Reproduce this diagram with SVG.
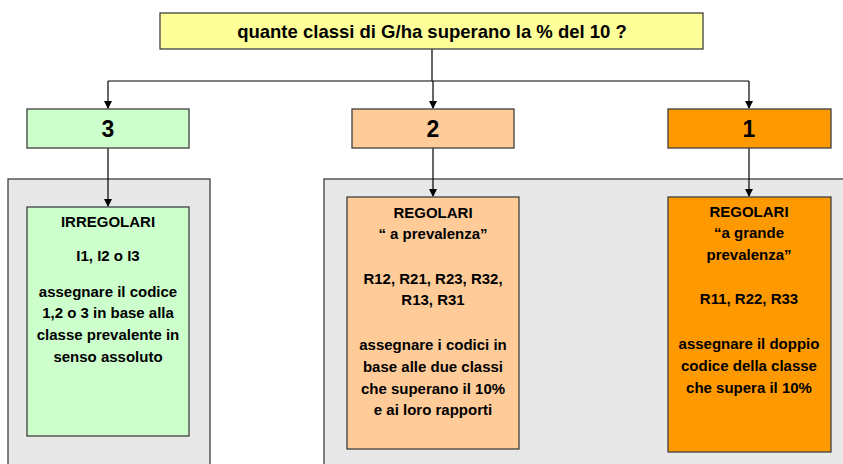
<svg xmlns="http://www.w3.org/2000/svg" width="843" height="464" viewBox="0 0 843 464">
  <defs>
    <marker id="arrow" markerWidth="8" markerHeight="8" refX="7" refY="4" orient="auto" markerUnits="userSpaceOnUse">
      <path d="M0,0 L8,4 L0,8 Z" fill="#000"/>
    </marker>
  </defs>
  <style>
    .box { stroke: #3f3f3f; stroke-width: 1.3; }
    .panel { fill: #e8e8e8; stroke: #3f3f3f; stroke-width: 1.3; }
    .txt { font-family: "Liberation Sans", Arial, sans-serif; font-weight: bold; fill: #000; text-anchor: middle; }
    .q { font-size: 18.5px; }
    .num { font-size: 23px; }
    .body { font-size: 15px; }
    .wire { stroke: #000; stroke-width: 1.2; fill: none; }
  </style>

  <rect width="843" height="464" fill="#fff"/>

  <!-- grey background panels -->
  <rect class="panel" x="8" y="179" width="202" height="300"/>
  <rect class="panel" x="324" y="179" width="530" height="300"/>

  <!-- connectors -->
  <g id="connectors">
    <line class="wire" x1="432" y1="49" x2="432" y2="81"/>
    <line class="wire" x1="108" y1="81" x2="749" y2="81"/>
    <line class="wire" x1="108" y1="81" x2="108" y2="108" marker-end="url(#arrow)"/>
    <line class="wire" x1="433" y1="81" x2="433" y2="108" marker-end="url(#arrow)"/>
    <line class="wire" x1="749" y1="81" x2="749" y2="108" marker-end="url(#arrow)"/>
    <line class="wire" x1="108" y1="148" x2="108" y2="206" marker-end="url(#arrow)"/>
    <line class="wire" x1="433" y1="148" x2="433" y2="196" marker-end="url(#arrow)"/>
    <line class="wire" x1="749" y1="148" x2="749" y2="196" marker-end="url(#arrow)"/>
  </g>

  <!-- question -->
  <g id="question">
    <rect class="box" x="160" y="13" width="543" height="36" fill="#ffff99"/>
    <text class="txt q" x="432" y="38">quante classi di G/ha superano la % del 10 ?</text>
  </g>

  <!-- answer: 3 -->
  <g id="answer3">
    <rect class="box" x="27" y="109" width="162" height="39" fill="#ccffcc"/>
    <text class="txt num" x="108" y="137">3</text>
  </g>

  <!-- answer: 2 -->
  <g id="answer2">
    <rect class="box" x="352" y="109" width="162" height="39" fill="#ffcc99"/>
    <text class="txt num" x="433" y="137">2</text>
  </g>

  <!-- answer: 1 -->
  <g id="answer1">
    <rect class="box" x="668" y="109" width="163" height="39" fill="#ff9900"/>
    <text class="txt num" x="749" y="137">1</text>
  </g>

  <!-- irregular stands -->
  <g id="irregolari">
    <rect class="box" x="27" y="207" width="162" height="229" fill="#ccffcc"/>
    <text class="txt body" x="108" y="227">IRREGOLARI</text>
    <text class="txt body" x="108" y="261">I1, I2 o I3</text>
    <text class="txt body" x="108" y="297">assegnare il codice</text>
    <text class="txt body" x="108" y="318">1,2 o 3 in base alla</text>
    <text class="txt body" x="108" y="340">classe prevalente in</text>
    <text class="txt body" x="108" y="362">senso assoluto</text>
  </g>

  <!-- regular stands, prevalence -->
  <g id="regolari-prevalenza">
    <rect class="box" x="347" y="197" width="172" height="252" fill="#ffcc99"/>
    <text class="txt body" x="433" y="218">REGOLARI</text>
    <text class="txt body" x="433" y="239">“ a prevalenza”</text>
    <text class="txt body" x="433" y="284">R12, R21, R23, R32,</text>
    <text class="txt body" x="433" y="305">R13, R31</text>
    <text class="txt body" x="433" y="350">assegnare i codici in</text>
    <text class="txt body" x="433" y="372">base alle due classi</text>
    <text class="txt body" x="433" y="394">che superano il 10%</text>
    <text class="txt body" x="433" y="415">e ai loro rapporti</text>
  </g>

  <!-- regular stands, strong prevalence -->
  <g id="regolari-grande-prevalenza">
    <rect class="box" x="668" y="197" width="163" height="255" fill="#ff9900"/>
    <text class="txt body" x="749" y="217">REGOLARI</text>
    <text class="txt body" x="749" y="238">“a grande</text>
    <text class="txt body" x="749" y="260">prevalenza”</text>
    <text class="txt body" x="749" y="304">R11, R22, R33</text>
    <text class="txt body" x="749" y="349">assegnare il doppio</text>
    <text class="txt body" x="749" y="371">codice della classe</text>
    <text class="txt body" x="749" y="393">che supera il 10%</text>
  </g>
</svg>
